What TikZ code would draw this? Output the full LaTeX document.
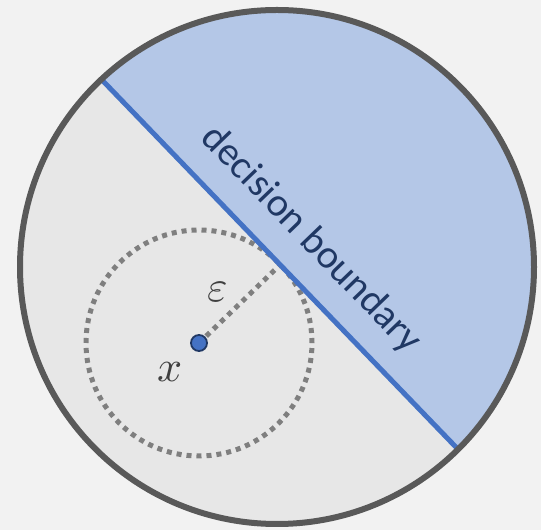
\documentclass[tikz,border=0pt]{standalone}
\usepackage{unicode-math}
\setmathfont{Latin Modern Math}
\newfontfamily\boundaryfont{Carlito}
\usetikzlibrary{calc}

\definecolor{bgGray}{HTML}{F2F2F2}
\definecolor{ballGray}{HTML}{E7E7E7}
\definecolor{rimGray}{HTML}{595959}
\definecolor{classBlue}{HTML}{B4C7E7}
\definecolor{lineBlue}{HTML}{4472C4}
\definecolor{textBlue}{HTML}{203864}
\definecolor{dotGray}{HTML}{7F7F7F}
\definecolor{symGray}{HTML}{404040}

\begin{document}
\begin{tikzpicture}[x=1pt,y=1pt,
  rim/.style={draw=rimGray,line width=6pt},
  boundary/.style={draw=lineBlue,line width=5pt},
  ball/.style={draw=dotGray,line width=5pt,dash pattern=on 5pt off 5pt},
  sym/.style={text=symGray,font=\fontsize{44}{50}\selectfont},
  sample/.style={circle,fill=lineBlue,draw=textBlue,line width=1.8pt,minimum size=16pt,inner sep=0pt}]
\useasboundingbox[fill=bgGray] (0,0) rectangle (541,530);
\coordinate (O) at (277,263);
\coordinate (P) at (199,187);
\path (O) ++(133.1:257) coordinate (A);
\path (O) ++(-45.2:257) coordinate (B);
\coordinate (F) at ($(A)!(P)!(B)$);
\coordinate (M) at ($(A)!0.508!(B)$);
\coordinate (T) at ($(M)!29pt!90:(B)$);
% input space
\fill[ballGray] (O) circle (257);
% epsilon ball
\draw[ball] (P) circle (113);
% other class
\fill[classBlue] (A) arc[start angle=133.1,end angle=-45.2,radius=257] -- cycle;
\draw[ball] (P) -- (F);
\draw[boundary] (A) -- (B);
\draw[rim] (O) circle (257);
% labels
\node[rotate=-46.1,anchor=base,text=textBlue,font=\boundaryfont\fontsize{40}{48}\selectfont] (db) at (T) {decision boundary};
\node[sample] (x) at (P) {};
\node[sym] (eps) at (218,238) {$\varepsilon$};
\node[sym] (xlab) at (170,158) {$x$};
\end{tikzpicture}
\end{document}
